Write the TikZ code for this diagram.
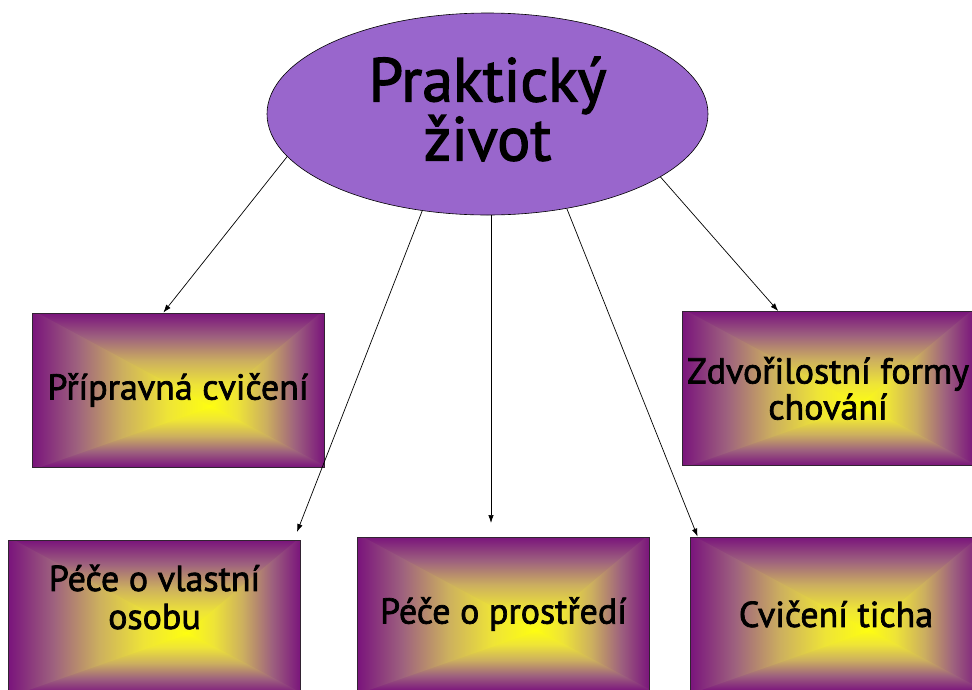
\documentclass[tikz,border=0pt]{standalone}
\usepackage{fontspec}
\setmainfont{PT Sans}[FakeBold=2]
\usetikzlibrary{calc,arrows.meta,shapes.geometric}
\definecolor{ellfill}{RGB}{153,102,204}
\definecolor{gp}{RGB}{122,20,124}
\definecolor{g1}{RGB}{158,98,126}
\definecolor{g2}{RGB}{204,175,95}
\definecolor{g3}{RGB}{238,228,55}
\definecolor{gy}{RGB}{255,255,15}
\definecolor{gedge}{RGB}{50,35,50}
\pgfdeclareverticalshading{gshade}{100bp}{color(0bp)=(gy); color(25bp)=(gy); color(37.5bp)=(g3); color(50bp)=(g2); color(62.5bp)=(g1); color(75bp)=(gp); color(100bp)=(gp)}
\newcommand\bfnt{\fontsize{36}{36}\selectfont}
\newcommand\efnt{\fontsize{62}{59}\selectfont}
\tikzset{
  gbox/.style={rectangle, draw=gedge, line width=0.8pt, minimum width=292pt, minimum height=154pt,
    inner sep=0pt, align=center, font=\bfnt,
    path picture={
      \coordinate (NW) at (path picture bounding box.north west);
      \coordinate (NE) at (path picture bounding box.north east);
      \coordinate (SE) at (path picture bounding box.south east);
      \coordinate (SW) at (path picture bounding box.south west);
      \coordinate (F) at ($(NW)!0.61!(SE)$);
      \begin{scope}\clip ($(NW)+(-3,0)$) -- ($(NE)+(3,0)$) -- ($(F)+(0,2)$) -- cycle;
        \shade[shading=gshade, shading angle=0] (NW) rectangle ($(F -| NE)+(0,2)$);\end{scope}
      \begin{scope}\clip ($(NE)+(0,-3)$) -- ($(SE)+(0,3)$) -- ($(F)+(-2,0)$) -- cycle;
        \shade[shading=gshade, shading angle=270] (NE) rectangle ($(F |- SE)+(-2,0)$);\end{scope}
      \begin{scope}\clip ($(SE)+(3,0)$) -- ($(SW)+(-3,0)$) -- ($(F)+(0,-2)$) -- cycle;
        \shade[shading=gshade, shading angle=180] (SE) rectangle ($(F -| SW)+(0,-2)$);\end{scope}
      \begin{scope}\clip ($(SW)+(0,3)$) -- ($(NW)+(0,-3)$) -- ($(F)+(2,0)$) -- cycle;
        \shade[shading=gshade, shading angle=90] (SW) rectangle ($(F |- NW)+(2,0)$);\end{scope}
    }},
  ellnode/.style={ellipse, draw=black, line width=0.6pt, fill=ellfill, minimum width=441pt,
    minimum height=202pt, inner sep=0pt},
  arr/.style={-{Latex[length=8pt,width=5.5pt]}, line width=0.7pt, black}
}
\begin{document}
\begin{tikzpicture}[x=1pt,y=-1pt]
\useasboundingbox[fill=white] (0,0) rectangle (972,689);
\node[ellnode, label={[name=ellt, align=center, font=\efnt, yshift=5pt]center:Praktický\\život}] (ell) at (487.5,114) {};
\node[gbox] (b1) at (178,390) {Přípravná cvičení};
\node[gbox] (b2) at (828,388.5) {Zdvořilostní formy\\chování};
\node[gbox, label={[name=b3t, align=center, font=\bfnt, yshift=20pt]center:Péče o vlastní\\[2pt]osobu}] (b3) at (154.5,617) {};
\node[gbox] (b4) at (503.5,614) {Péče o prostředí};
\node[gbox] (b5) at (836,614) {Cvičení ticha};
\coordinate (t2) at (297,532);
\coordinate (t3) at (491,523);
\draw[arr] (ell.192.3) -- ($(b1.north west)!0.45!(b1.north east)$);
\draw[arr] (ell.236) -- (t2);
\draw[arr] (ell.south -| t3) -- (t3);
\draw[arr] (ell.310.7) -- ($(b5.north west)+(8,0)$);
\draw[arr] (ell.340.5) -- ($(b2.north west)!0.33!(b2.north east)$);
\end{tikzpicture}
\end{document}
